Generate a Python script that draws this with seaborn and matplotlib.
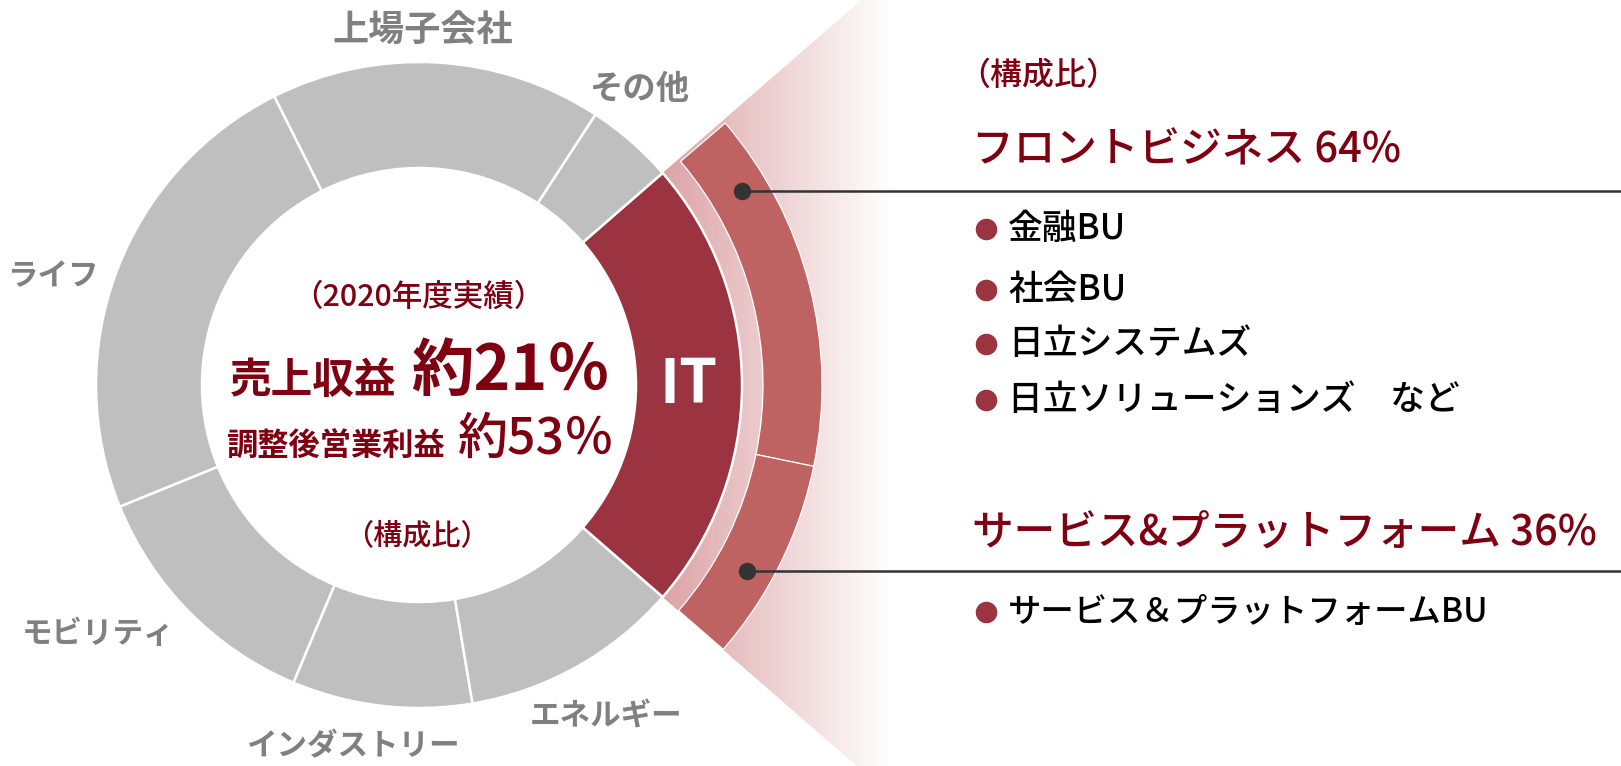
import numpy as np
import matplotlib
matplotlib.use("Agg")
import matplotlib.pyplot as plt
from matplotlib.patches import Wedge
from matplotlib.colors import LinearSegmentedColormap
import seaborn as sns

# donut segments, counter-clockwise starting with IT (share of the ring, %)
segments = ["IT", "その他", "上場子会社", "ライフ", "モビリティ", "インダストリー", "エネルギー"]
shares = [22.8, 4.4, 16.6, 23.75, 12.5, 9.0, 10.95]

# IT breakdown (構成比)
it_parts = ["フロントビジネス", "サービス&プラットフォーム"]
it_ratio = [64, 36]

front_items = ["金融BU", "社会BU", "日立システムズ", "日立ソリューションズ　など"]
service_items = ["サービス＆プラットフォームBU"]

revenue_share = "約21％"
profit_share = "約53％"

DARK_RED = "#7F0010"
IT_RED = "#9B3440"
SALMON = "#BE6262"
GRAY = "#BFBFBF"
LABEL_GRAY = "#808080"

sns.set_theme(style="white")
plt.rcParams["font.family"] = ["Noto Sans CJK JP", "DejaVu Sans"]

W, H = 1621, 766
fig = plt.figure(figsize=(W / 100, H / 100), dpi=100)
ax = fig.add_axes([0, 0, 1, 1])

cx, cy = 419, H - 385
r_out, r_in = 323, 217
it_half = shares[0] * 3.6 / 2

# pink fan behind the IT breakdown, fading to white
fan = Wedge((cx, cy), 900, -it_half, it_half, facecolor="none", edgecolor="none")
ax.add_patch(fan)
fan_cmap = LinearSegmentedColormap.from_list("fan", ["#D99A9D", "#FFFFFF"])
grad = np.linspace(0, 1, 256).reshape(1, -1)
im = ax.imshow(grad, cmap=fan_cmap, extent=[640, 890, 0, H], aspect="auto", zorder=0)
im.set_clip_path(fan)

# main donut
colors = [IT_RED] + [GRAY] * (len(shares) - 1)
ax.pie(shares, colors=colors, center=(cx, cy), radius=r_out, startangle=-it_half,
       counterclock=True,
       wedgeprops=dict(width=r_out - r_in, edgecolor="white", linewidth=1.8))

# outer arc: IT split (starts a hair below the fan edge)
r_arc_out, r_arc_in = 403, 344
arc_frac = np.array(it_ratio) / 100 * (shares[0] - 0.15) / 100
ax.pie(arc_frac, colors=[SALMON] * 2, center=(cx, cy), radius=r_arc_out,
       startangle=it_half - 0.5, counterclock=False, normalize=False,
       wedgeprops=dict(width=r_arc_out - r_arc_in, edgecolor="white", linewidth=0.9))

ax.text(cx + (r_in + r_out) / 2, cy, "IT", color="white", fontsize=44,
        fontweight="bold", ha="center", va="center")

# leader dots + lines
for ang in [31, -29.5]:
    x = cx + 377 * np.cos(np.radians(ang))
    y = cy + 377 * np.sin(np.radians(ang))
    ax.plot([x, W], [y, y], color="#333333", lw=1.8, solid_capstyle="butt")
    ax.plot(x, y, "o", ms=11.5, color="#333333")

# segment labels: (x, y from top, font size)
label_pos = {
    "上場子会社": (423, 31, 26), "その他": (640, 89, 24), "ライフ": (53, 276, 22),
    "モビリティ": (98, 634, 22), "インダストリー": (353, 746, 22), "エネルギー": (606, 717, 22),
}
for name, (x, y, fs) in label_pos.items():
    ax.text(x, H - y, name, color=LABEL_GRAY, fontsize=fs, fontweight="bold",
            ha="center", va="center")

# center text
ax.text(418, H - 297, "（2020年度実績）", color=DARK_RED, fontsize=22, fontweight="medium",
        ha="center", va="center")
ax.text(313, H - 381, "売上収益", color=DARK_RED, fontsize=30, fontweight="bold",
        ha="center", va="center")
ax.text(510, H - 371, revenue_share, color=DARK_RED, fontsize=45, fontweight="bold",
        ha="center", va="center")
ax.text(335, H - 446, "調整後営業利益", color=DARK_RED, fontsize=22.5, fontweight="bold",
        ha="center", va="center")
ax.text(536, H - 440, profit_share, color=DARK_RED, fontsize=36, fontweight="medium",
        ha="center", va="center")
ax.text(417, H - 536, "（構成比）", color=DARK_RED, fontsize=21, fontweight="medium",
        ha="center", va="center")

# right side
ax.text(958, H - 76, "（構成比）", color=DARK_RED, fontsize=23, fontweight="medium",
        ha="left", va="center")
ax.text(972, H - 150, f"{it_parts[0]} {it_ratio[0]}%", color=DARK_RED, fontsize=30,
        fontweight="medium", ha="left", va="center")
ax.text(972, H - 532, f"{it_parts[1]} {it_ratio[1]}%", color=DARK_RED, fontsize=30,
        fontweight="medium", ha="left", va="center")

front_y = [229, 290, 344, 400]
for y, item in zip(front_y, front_items):
    ax.plot(986, H - y, "o", ms=14.5, color=IT_RED)
    ax.text(1008, H - y, item, color="black", fontsize=25, fontweight="medium",
            ha="left", va="center")
for item in service_items:
    ax.plot(986, H - 612, "o", ms=14.5, color=IT_RED)
    ax.text(1008, H - 612, item, color="black", fontsize=24, fontweight="medium",
            ha="left", va="center")

ax.set_xlim(0, W)
ax.set_ylim(0, H)
ax.set_aspect("equal")
ax.axis("off")

fig.savefig("out.png", dpi=100)
